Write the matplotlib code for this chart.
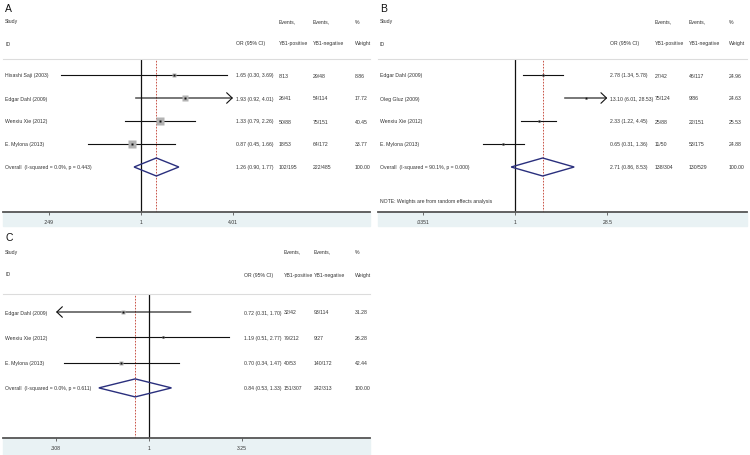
import numpy as np
import matplotlib.pyplot as plt
import matplotlib.transforms as mtransforms
from matplotlib.patches import Polygon, Rectangle
from matplotlib.ticker import NullLocator

plt.rcParams['font.family'] = ['Liberation Sans', 'DejaVu Sans']

# ---- panel A data
a_studies = ['Hisashi Saji (2003)', 'Edgar Dahl (2009)', 'Wenxiu Xie (2012)', 'E. Mylona (2013)']
a_or = [1.65, 1.93, 1.33, 0.87]
a_lo = [0.30, 0.92, 0.79, 0.45]
a_hi = [3.69, 4.01, 2.26, 1.66]
a_pos = ['8/13', '26/41', '50/88', '18/53']
a_neg = ['29/48', '54/114', '75/151', '64/172']
a_weight = [8.86, 17.72, 40.45, 33.77]
a_overall = [1.26, 0.90, 1.77]
a_overall_label = 'Overall  (I-squared = 0.0%, p = 0.443)'
a_overall_pos = '102/195'
a_overall_neg = '222/485'
a_ticks = [0.249, 1, 4.01]
a_tick_labels = ['.249', '1', '4.01']

# ---- panel B data
b_studies = ['Edgar Dahl (2009)', 'Oleg Gluz (2009)', 'Wenxiu Xie (2012)', 'E. Mylona (2013)']
b_or = [2.78, 13.10, 2.33, 0.65]
b_lo = [1.34, 6.01, 1.22, 0.31]
b_hi = [5.78, 28.53, 4.45, 1.36]
b_pos = ['27/42', '75/124', '25/88', '11/50']
b_neg = ['46/117', '9/86', '22/151', '53/175']
b_weight = [24.96, 24.63, 25.53, 24.88]
b_overall = [2.71, 0.86, 8.53]
b_overall_label = 'Overall  (I-squared = 90.1%, p = 0.000)'
b_overall_pos = '138/304'
b_overall_neg = '130/529'
b_ticks = [0.0351, 1, 28.5]
b_tick_labels = ['.0351', '1', '28.5']
b_note = 'NOTE: Weights are from random effects analysis'

# ---- panel C data
c_studies = ['Edgar Dahl (2009)', 'Wenxiu Xie (2012)', 'E. Mylona (2013)']
c_or = [0.72, 1.19, 0.70]
c_lo = [0.31, 0.51, 0.34]
c_hi = [1.70, 2.77, 1.47]
c_pos = ['32/42', '79/212', '40/53']
c_neg = ['93/114', '9/27', '140/172']
c_weight = [31.28, 26.28, 42.44]
c_overall = [0.84, 0.53, 1.33]
c_overall_label = 'Overall  (I-squared = 0.0%, p = 0.611)'
c_overall_pos = '151/307'
c_overall_neg = '242/313'
c_ticks = [0.308, 1, 3.25]
c_tick_labels = ['.308', '1', '3.25']

W, H = 750, 456
FS = 3.7
TXT = '#333333'


def forest(fig, letter, box, row0, step, heads, cols, tick_px, box_k,
           studies, ors, los, his, pos, neg, wts,
           overall, ov_label, ov_pos, ov_neg, ticks, tick_labels,
           band_px, note=None, note_y=None):
    left, right, top, bottom = box
    ax = fig.add_axes([left / W, 1 - bottom / H, (right - left) / W, (bottom - top) / H])
    ax.set_xscale('log')

    # x limits so that the outer ticks land on the wanted pixels
    l0, l1 = np.log(ticks[0]), np.log(ticks[-1])
    b = (tick_px[1] - tick_px[0]) / (l1 - l0)
    a = tick_px[0] - b * l0
    ax.set_xlim(np.exp((left - a) / b), np.exp((right - a) / b))
    ax.set_ylim((bottom - row0) / step, (top - row0) / step)

    trans = mtransforms.blended_transform_factory(ax.transAxes, ax.transData)
    fx = lambda px: (px - left) / (right - left)
    fy = lambda py: (py - row0) / step

    # reference lines
    ax.axvline(1, color='#111111', lw=0.9, zorder=1)
    ax.axvline(overall[0], color='#c0392b', lw=0.6, ls=(0, (2, 1.6)), zorder=1)

    lo_lim = round(ticks[0], 2)
    hi_lim = round(ticks[-1], 2)
    arrow = '->,head_length=0.4,head_width=0.38'
    for i in range(len(studies)):
        if his[i] >= hi_lim:
            ax.annotate('', xy=(ticks[-1], i), xytext=(los[i], i),
                        arrowprops=dict(arrowstyle=arrow, lw=0.8, color='#111111',
                                        shrinkA=0, shrinkB=0))
        elif los[i] <= lo_lim:
            ax.annotate('', xy=(ticks[0], i), xytext=(his[i], i),
                        arrowprops=dict(arrowstyle=arrow, lw=0.8, color='#111111',
                                        shrinkA=0, shrinkB=0))
        else:
            ax.plot([los[i], his[i]], [i, i], color='#111111', lw=0.8, zorder=2)
        ms = box_k * np.sqrt(wts[i]) * 0.72
        ax.plot(ors[i], i, 's', ms=ms, color='#b3b3b3', mec='none', zorder=3)
        ax.plot(ors[i], i, 's', ms=1.7, color='#111111', mec='none', zorder=4)

    # pooled diamond
    n = len(studies)
    h = 9.0 / step
    dia = Polygon([[overall[1], n], [overall[0], n - h], [overall[2], n], [overall[0], n + h]],
                  closed=True, facecolor='none', edgecolor='#2a2f7d', lw=1.0, zorder=3)
    ax.add_patch(dia)

    # text columns
    kw = dict(transform=trans, fontsize=FS, color=TXT, va='center', ha='left', clip_on=False)
    ax.text(fx(left + 2), fy(heads[0]), letter, fontsize=7.5, color='#111111',
            va='center', ha='left', transform=trans, clip_on=False)
    head1 = ['Study', '', 'Events,', 'Events,', '%']
    head2 = ['ID', 'OR (95% CI)', 'YB1-positive', 'YB1-negative', 'Weight']
    for c, t1, t2 in zip(cols, head1, head2):
        ax.text(fx(c), fy(heads[1]), t1, **kw)
        ax.text(fx(c), fy(heads[2]), t2, **kw)
    for i in range(n):
        row = [studies[i], '%.2f (%.2f, %.2f)' % (ors[i], los[i], his[i]),
               pos[i], neg[i], '%.2f' % wts[i]]
        for c, t in zip(cols, row):
            ax.text(fx(c), i, t, **kw)
    row = [ov_label, '%.2f (%.2f, %.2f)' % tuple(overall), ov_pos, ov_neg, '100.00']
    for c, t in zip(cols, row):
        ax.text(fx(c), n, t, **kw)
    if note:
        ax.text(fx(cols[0]), fy(note_y), note, **kw)

    # axis styling
    for s in ['left', 'right']:
        ax.spines[s].set_visible(False)
    ax.spines['top'].set_color('#dcdcdc')
    ax.spines['top'].set_linewidth(0.8)
    ax.spines['bottom'].set_color('#555555')
    ax.spines['bottom'].set_linewidth(1.3)
    ax.set_yticks([])
    ax.set_xticks(ticks)
    ax.set_xticklabels(tick_labels)
    ax.xaxis.set_minor_locator(NullLocator())
    ax.tick_params(axis='x', length=2.5, width=0.6, color='#555555',
                   labelsize=FS, pad=2.5, labelcolor=TXT)

    # light band under the axis
    bh = band_px / (bottom - top)
    ax.add_patch(Rectangle((0, -bh), 1, bh, transform=ax.transAxes,
                           color='#e9f2f4', clip_on=False, zorder=0))
    return ax


fig = plt.figure(figsize=(7.5, 4.56), dpi=100)

forest(fig, 'A', (3, 370, 60, 213), 76, 23, (9, 22, 44),
       (5, 236, 279, 313, 355), (49, 233), 1.26,
       a_studies, a_or, a_lo, a_hi, a_pos, a_neg, a_weight,
       a_overall, a_overall_label, a_overall_pos, a_overall_neg,
       a_ticks, a_tick_labels, 14)

forest(fig, 'B', (378, 747, 60, 213), 76, 23, (9, 22, 44),
       (380, 610, 655, 689, 729), (423.3, 607.3), 0.5,
       b_studies, b_or, b_lo, b_hi, b_pos, b_neg, b_weight,
       b_overall, b_overall_label, b_overall_pos, b_overall_neg,
       b_ticks, b_tick_labels, 14, note=b_note, note_y=202)

forest(fig, 'C', (3, 370, 295, 439), 313, 25.3, (238, 252, 275),
       (5, 244, 284, 314, 355), (56, 242), 0.58,
       c_studies, c_or, c_lo, c_hi, c_pos, c_neg, c_weight,
       c_overall, c_overall_label, c_overall_pos, c_overall_neg,
       c_ticks, c_tick_labels, 17)

fig.savefig('out.png', dpi=100)
